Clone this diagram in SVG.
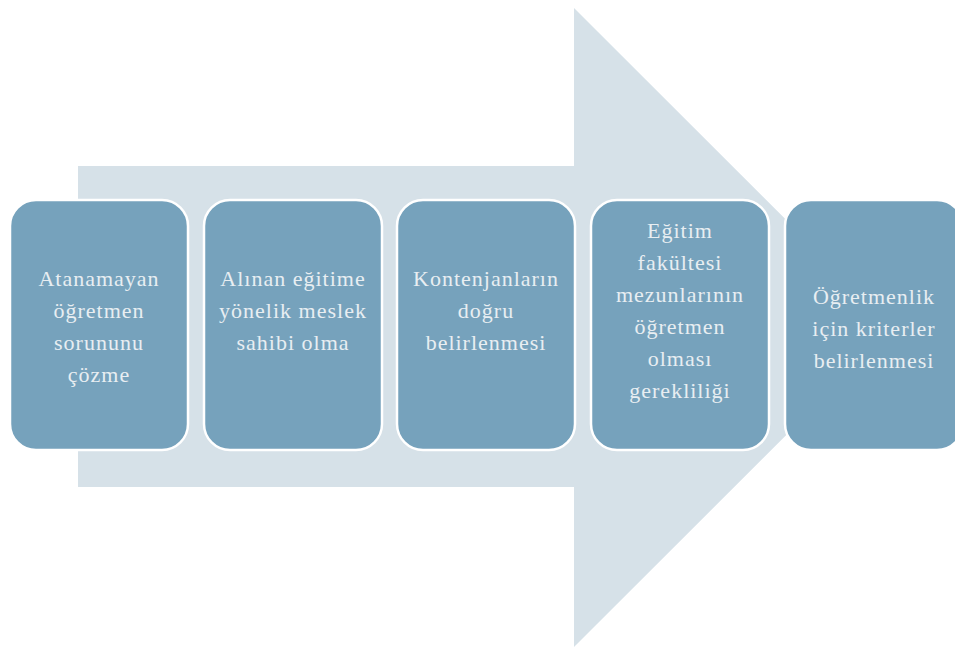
<svg xmlns="http://www.w3.org/2000/svg" width="955" height="648" viewBox="0 0 955 648">
<style>
.box{fill:#76a2bc;stroke:#ffffff;stroke-width:2.5}
.lbl{font-family:"Liberation Serif","Times New Roman",serif;font-size:22px;letter-spacing:1px;fill:#e8eef2;text-anchor:middle}
</style>
<rect width="955" height="648" fill="#ffffff"/>
<g id="arrow">
<polygon points="78,166 574,166 574,8 894,327.5 574,647 574,487 78,487" fill="#d6e1e8"/>
</g>
<g id="connectors"></g>
<g id="n1">
<rect class="box" x="10" y="200" width="178" height="250" rx="26"/>
<text class="lbl"><tspan x="99" y="286">Atanamayan</tspan><tspan x="99" y="318">öğretmen</tspan><tspan x="99" y="350">sorununu</tspan><tspan x="99" y="382">çözme</tspan></text>
</g>
<g id="n2">
<rect class="box" x="204" y="200" width="178" height="250" rx="26"/>
<text class="lbl"><tspan x="293" y="286">Alınan eğitime</tspan><tspan x="293" y="318">yönelik meslek</tspan><tspan x="293" y="350">sahibi olma</tspan></text>
</g>
<g id="n3">
<rect class="box" x="397" y="200" width="178" height="250" rx="26"/>
<text class="lbl"><tspan x="486" y="286">Kontenjanların</tspan><tspan x="486" y="318">doğru</tspan><tspan x="486" y="350">belirlenmesi</tspan></text>
</g>
<g id="n4">
<rect class="box" x="591" y="200" width="178" height="250" rx="26"/>
<text class="lbl"><tspan x="680" y="238">Eğitim</tspan><tspan x="680" y="270">fakültesi</tspan><tspan x="680" y="302">mezunlarının</tspan><tspan x="680" y="334">öğretmen</tspan><tspan x="680" y="366">olması</tspan><tspan x="680" y="398">gerekliliği</tspan></text>
</g>
<g id="n5">
<rect class="box" x="785" y="200" width="178" height="250" rx="26"/>
<text class="lbl"><tspan x="874" y="304">Öğretmenlik</tspan><tspan x="874" y="336">için kriterler</tspan><tspan x="874" y="368">belirlenmesi</tspan></text>
</g>
</svg>
